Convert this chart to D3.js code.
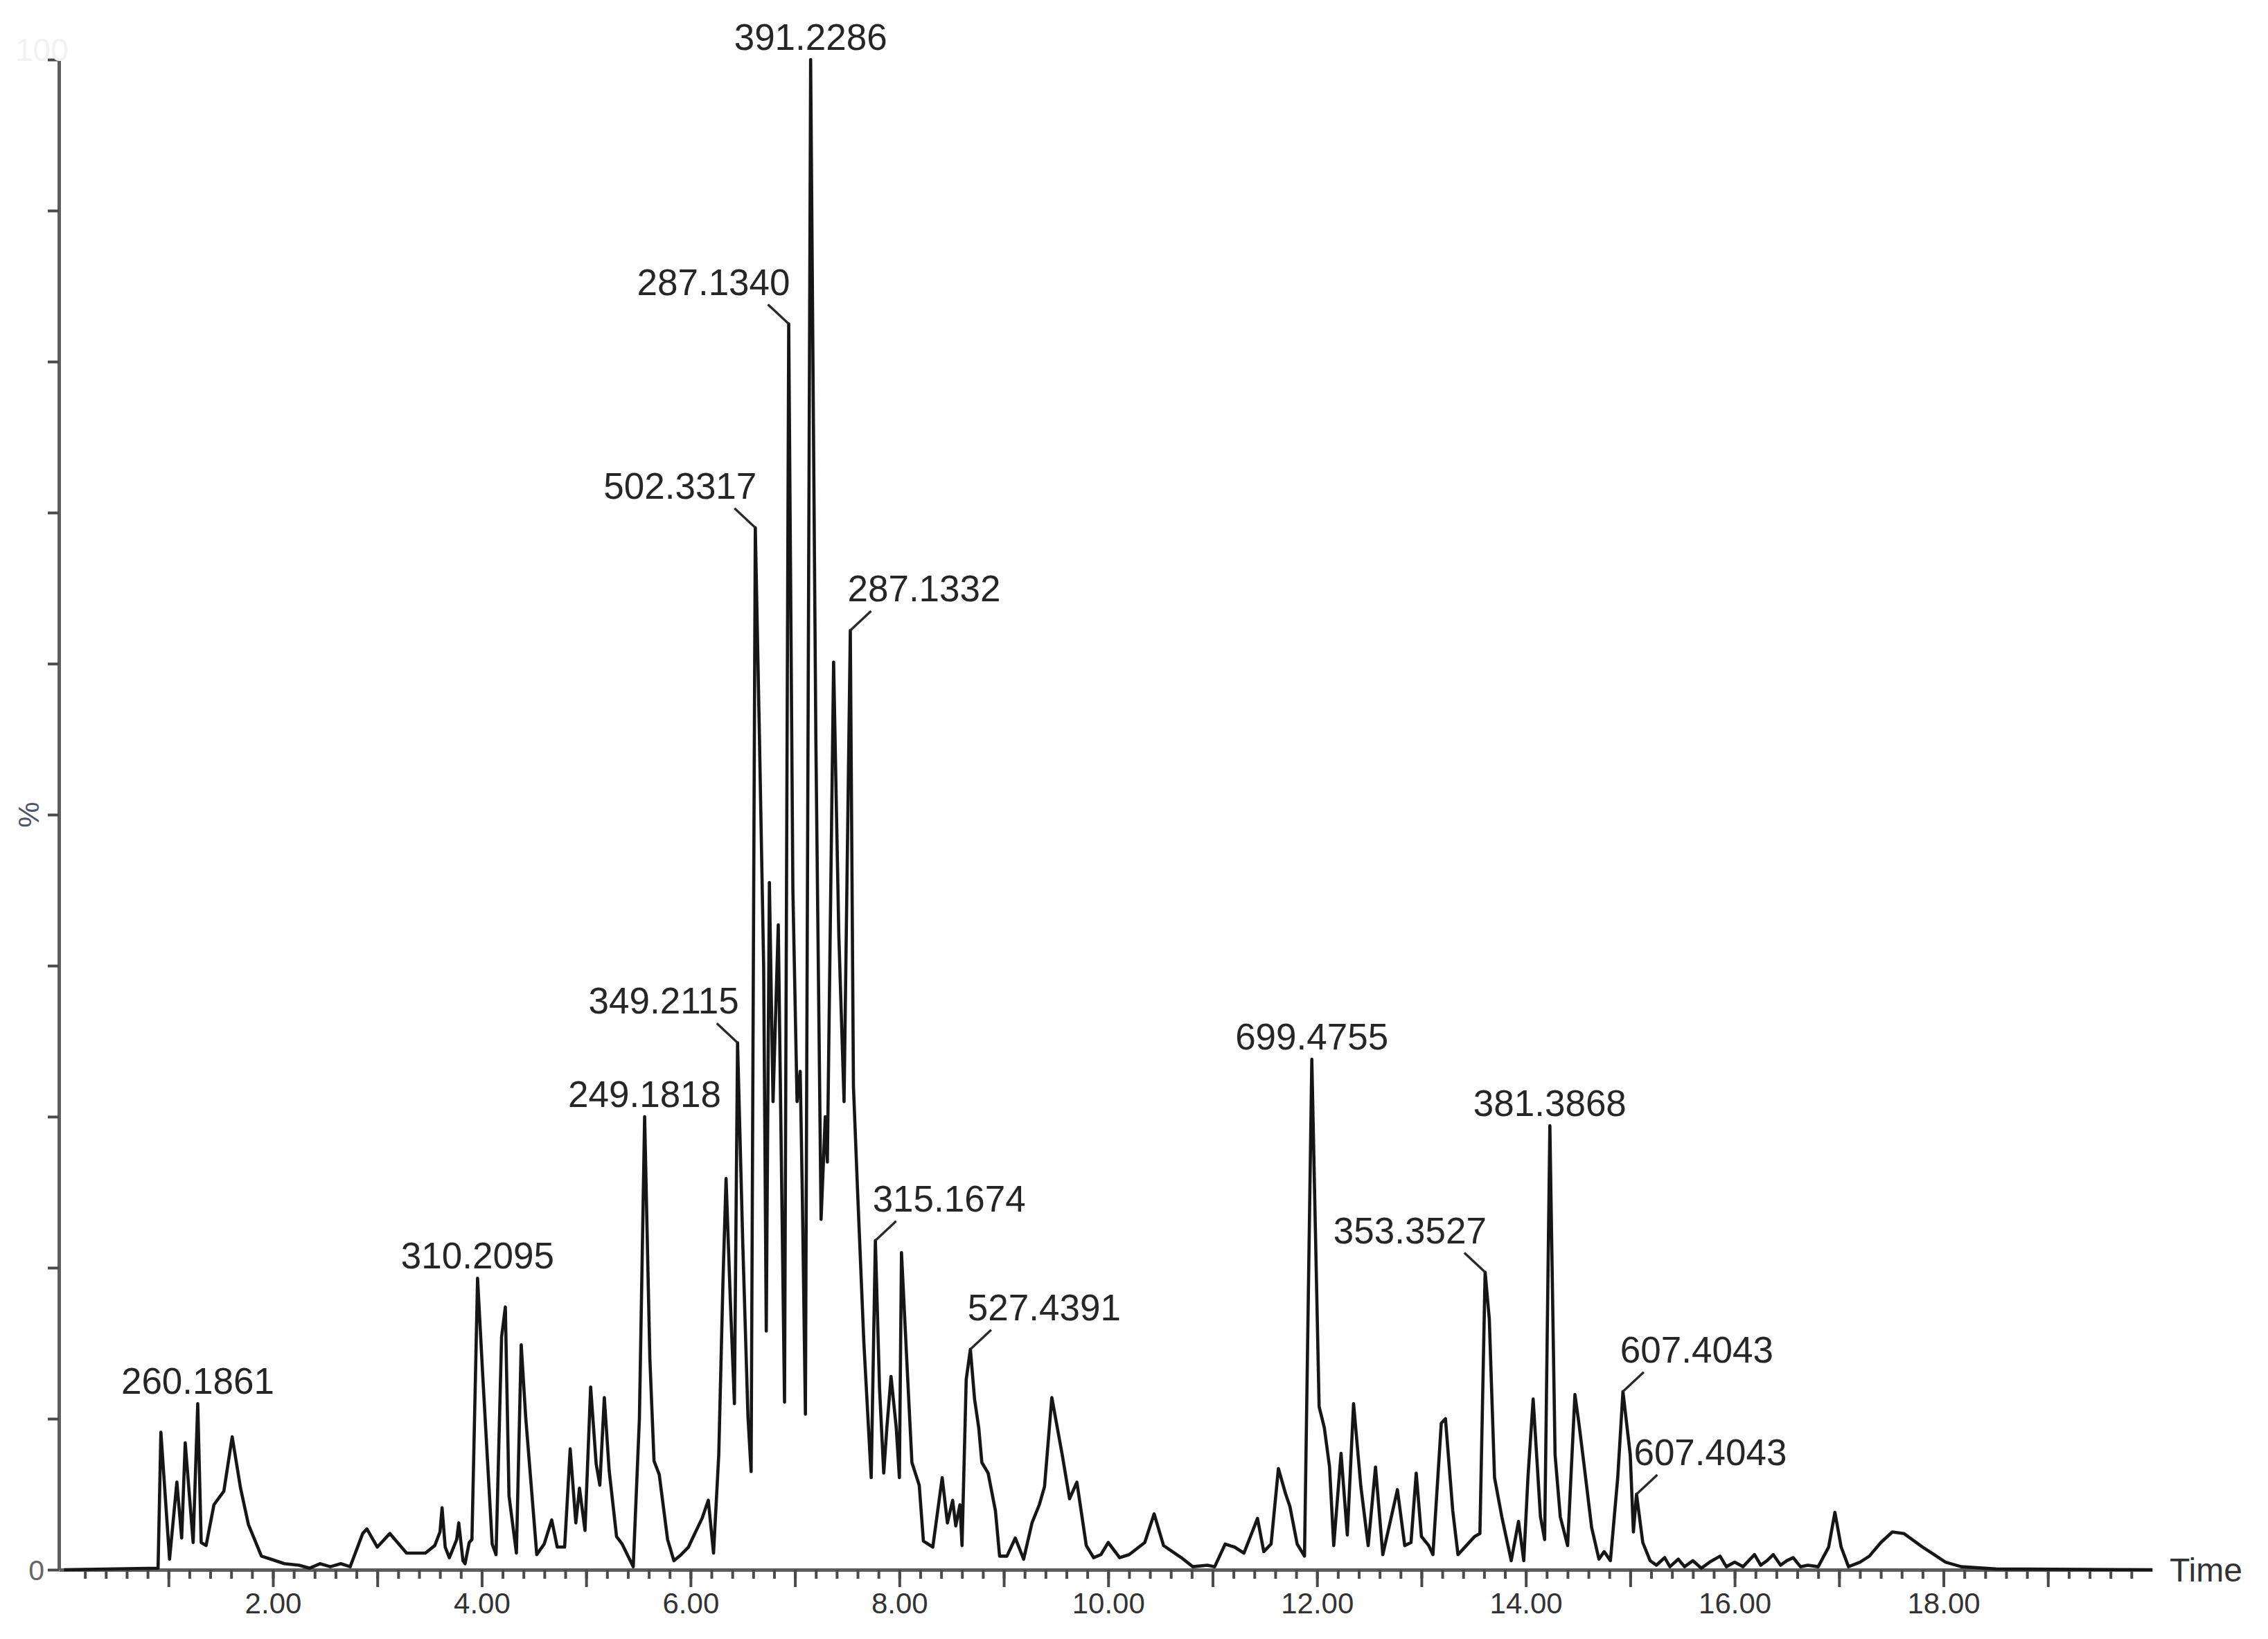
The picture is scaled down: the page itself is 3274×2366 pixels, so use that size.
<!DOCTYPE html>
<html><head><meta charset="utf-8">
<script src="https://cdn.jsdelivr.net/npm/d3@7"></script>
<style>html,body{margin:0;padding:0;background:#fff;} svg{display:block;}</style>
</head><body>
<svg id="chart" width="3274" height="2366"></svg>
<script>
// ---------- DATA ----------
const retentionTime = [
 0.00,0.90,0.927,1.01,1.08,1.126,1.16,1.236,1.28,1.313,1.36,1.435,1.53,1.61,1.69,1.765,1.89,1.98,2.11,2.25,
 2.35,2.45,2.55,2.65,2.74,2.86,2.90,3.00,3.12,3.28,3.46,3.55,3.60,3.62,3.65,3.69,3.76,3.78,3.82,3.84,
 3.88,3.906,3.96,4.01,4.10,4.137,4.19,4.226,4.261,4.332,4.378,4.421,4.527,4.598,4.67,4.723,4.794,4.847,4.901,4.936,
 4.989,5.043,5.096,5.131,5.174,5.22,5.291,5.345,5.451,5.51,5.56,5.61,5.65,5.70,5.78,5.84,5.91,5.98,6.02,6.11,
 6.17,6.22,6.27,6.31,6.34,6.38,6.42,6.45,6.50,6.55,6.58,6.62,6.66,6.70,6.725,6.755,6.79,6.84,6.90,6.94,
 6.98,7.02,7.05,7.07,7.10,7.15,7.20,7.25,7.29,7.31,7.37,7.42,7.47,7.53,7.56,7.60,7.66,7.73,7.77,7.81,
 7.85,7.88,7.92,7.97,8.00,8.02,8.08,8.12,8.19,8.23,8.32,8.41,8.46,8.51,8.54,8.58,8.60,8.64,8.68,8.72,
 8.76,8.79,8.85,8.92,8.96,9.03,9.11,9.19,9.27,9.34,9.39,9.46,9.56,9.63,9.70,9.79,9.86,9.93,10.00,10.11,
 10.20,10.35,10.44,10.53,10.70,10.81,10.95,11.02,11.12,11.21,11.30,11.43,11.49,11.56,11.63,11.70,11.74,11.81,11.88,11.95,
 12.02,12.07,12.12,12.16,12.23,12.29,12.35,12.42,12.49,12.56,12.63,12.77,12.84,12.90,12.95,13.00,13.07,13.11,13.19,13.23,
 13.30,13.35,13.43,13.51,13.56,13.61,13.65,13.70,13.77,13.86,13.93,13.98,14.02,14.07,14.14,14.18,14.23,14.28,14.33,14.40,
 14.47,14.51,14.56,14.63,14.70,14.75,14.81,14.88,14.93,15.00,15.03,15.06,15.12,15.19,15.25,15.33,15.38,15.46,15.52,15.60,
 15.68,15.76,15.86,15.92,16.00,16.08,16.19,16.25,16.31,16.37,16.44,16.50,16.56,16.63,16.70,16.80,16.90,16.96,17.02,17.09,
 17.20,17.29,17.40,17.51,17.62,17.80,18.02,18.17,18.50,20.00
];
const relAbundance = [
 0,0.1,9.1,0.7,5.8,2.1,8.4,1.8,11.0,1.8,1.6,4.3,5.2,8.8,5.4,3.0,0.9,0.7,0.4,0.3,
 0.1,0.4,0.2,0.4,0.2,2.4,2.7,1.5,2.4,1.1,1.1,1.6,2.5,4.1,1.5,0.8,2.0,3.1,0.6,0.4,
 1.8,2.0,19.3,12.8,1.7,1.0,15.4,17.4,4.9,1.1,14.9,10.1,1.0,1.7,3.3,1.5,1.5,8.0,3.1,5.4,
 2.6,12.1,7.0,5.6,11.4,6.6,2.2,1.7,0.2,10.0,30.0,14.0,7.2,6.3,2.0,0.6,1.0,1.5,2.1,3.4,
 4.6,1.1,7.6,19.0,25.9,18.0,11.0,34.9,21.6,10.1,6.5,69.0,55.0,40.0,15.8,45.5,31.0,42.7,11.1,82.5,
 45.0,31.0,33.0,25.0,10.3,100,55.0,23.2,30.0,27.0,60.1,42.0,31.0,62.2,32.0,25.0,15.0,6.1,21.8,12.0,
 6.4,9.4,12.8,9.4,6.1,21.0,12.6,7.1,5.6,1.9,1.5,6.1,3.1,4.6,2.9,4.3,1.6,12.6,14.6,11.3,
 9.4,7.1,6.4,3.9,0.9,0.9,2.1,0.7,3.1,4.3,5.5,11.4,7.6,4.7,5.8,1.6,0.8,1.0,1.8,0.8,
 1.0,1.8,3.7,1.6,0.8,0.2,0.3,0.2,1.7,1.5,1.1,3.4,1.2,1.7,6.7,5.0,4.2,1.7,0.9,33.8,
 10.8,9.4,6.8,1.6,7.7,2.3,11.0,5.5,1.6,6.8,1.0,5.3,1.6,1.8,6.4,2.2,1.6,1.0,9.7,10.0,
 3.9,1.0,1.6,2.2,2.4,19.7,16.6,6.1,3.5,0.6,3.2,0.6,6.1,11.3,3.5,2.0,29.4,7.6,3.5,1.6,
 11.6,9.6,6.8,2.8,0.7,1.2,0.6,6.1,11.8,7.6,2.5,5.0,1.8,0.6,0.3,0.8,0.2,0.7,0.2,0.6,
 0.1,0.5,0.9,0.2,0.5,0.2,1.0,0.3,0.6,1.0,0.3,0.6,0.8,0.2,0.3,0.2,1.5,3.8,1.5,0.2,
 0.5,0.9,1.8,2.5,2.4,1.5,0.5,0.2,0.05,0
];
const peakMass = ["260.1861","310.2095","249.1818","349.2115","502.3317","287.1340","391.2286",
                  "287.1332","315.1674","527.4391","699.4755","353.3527","381.3868","607.4043","607.4043"];
const peakTime = [1.28,3.96,5.56,6.45,6.62,6.94,7.15,7.53,7.77,8.68,11.95,13.61,14.23,14.93,15.06];
const yTickValues = [0,10,20,30,40,50,60,70,80,90,100];
const xMajorTicks = [1,2,3,4,5,6,7,8,9,10,11,12,13,14,15,16,17,18,19];
const xLabelTimes = [2,4,6,8,10,12,14,16,18];
const xTickLabels = ["2.00","4.00","6.00","8.00","10.00","12.00","14.00","16.00","18.00"];
const xAxisTitle = "Time";
const yAxisTitle = "%";
const yBottomLabel = "0";
const yTopLabel = "100";

// ---------- LAYOUT ----------
const FONT = "'Liberation Sans', Arial, Helvetica, sans-serif";
const svg = d3.select("#chart");
svg.append("rect").attr("width",3274).attr("height",2366).attr("fill","#fff");

const x = d3.scaleLinear().domain([-0.05, 20]).range([85, 3107]);
const y = d3.scaleLinear().domain([0, 100]).range([2266, 86]);
const AXIS_COLOR = "#5e5e5e";

// x axis minor ticks
const minorTicks = d3.range(1, 100).map(i => +(i * 0.2).toFixed(1));
const gxMinor = svg.append("g").attr("transform", `translate(0,${y(0)})`)
  .call(d3.axisBottom(x).tickValues(minorTicks).tickSize(13).tickSizeOuter(0).tickFormat(""));
gxMinor.select(".domain").attr("stroke", AXIS_COLOR).attr("stroke-width", 5);
gxMinor.selectAll(".tick line").attr("stroke", "#4a4a4a").attr("stroke-width", 4);

// x axis major ticks + labels
const labelMap = new Map(xLabelTimes.map((t, i) => [t, xTickLabels[i]]));
const gxMajor = svg.append("g").attr("transform", `translate(0,${y(0)})`)
  .call(d3.axisBottom(x).tickValues(xMajorTicks).tickSize(25).tickPadding(8)
    .tickFormat(d => labelMap.get(d) || ""));
gxMajor.select(".domain").remove();
gxMajor.selectAll(".tick line").attr("stroke", "#4a4a4a").attr("stroke-width", 4);
gxMajor.selectAll(".tick text").attr("font-family", FONT).attr("font-size", 42)
  .attr("fill", "#333");

// y axis
const gy = svg.append("g").attr("transform", `translate(85,0)`)
  .call(d3.axisLeft(y).tickValues(yTickValues).tickSize(16).tickSizeOuter(0).tickFormat(""));
gy.select(".domain").attr("stroke", AXIS_COLOR).attr("stroke-width", 5);
gy.selectAll(".tick line").attr("stroke", "#4a4a4a").attr("stroke-width", 4);

// axis texts
svg.append("text").attr("x", 3132).attr("y", y(0) + 17).attr("font-family", FONT)
  .attr("font-size", 48).attr("fill", "#333").text(xAxisTitle);
svg.append("text").attr("x", 64).attr("y", y(0) + 15).attr("text-anchor", "end")
  .attr("font-family", FONT).attr("font-size", 41).attr("fill", "#666").text(yBottomLabel);
svg.append("text").attr("transform", `translate(56,${y(50)}) rotate(-90)`)
  .attr("text-anchor", "middle").attr("font-family", FONT).attr("font-size", 42)
  .attr("fill", "#4f5466").text(yAxisTitle);
svg.append("text").attr("x", 22).attr("y", 88).attr("font-family", FONT)
  .attr("font-size", 46).attr("fill", "#f2f2f2").text(yTopLabel);

// chromatogram trace
const series = retentionTime.map((t, i) => [t, relAbundance[i]]);
svg.append("path").datum(series)
  .attr("d", d3.line().x(d => x(d[0])).y(d => y(d[1])))
  .attr("fill", "none").attr("stroke", "#161616").attr("stroke-width", 4.6)
  .attr("stroke-linejoin", "round");

// peak labels
const placement = ["c","c","c","L","L","L","c","R","R","R","c","L","c","R","R"];
const nearestIndex = t => d3.minIndex(retentionTime, v => Math.abs(v - t));
peakMass.forEach((m, i) => {
  const k = nearestIndex(peakTime[i]);
  const px = x(retentionTime[k]), py = y(relAbundance[k]);
  const side = placement[i];
  const g = svg.append("g");
  if (side === "c") {
    g.append("text").attr("x", px).attr("y", py - 14).attr("text-anchor", "middle")
      .attr("font-family", FONT).attr("font-size", 53).attr("fill", "#262626").text(m);
  } else {
    const dir = side === "L" ? -1 : 1;
    g.append("text").attr("x", px + (side === "L" ? 2 : -4)).attr("y", py - 42)
      .attr("text-anchor", side === "L" ? "end" : "start")
      .attr("font-family", FONT).attr("font-size", 53).attr("fill", "#262626").text(m);
    g.append("line").attr("x1", px + dir * 30).attr("y1", py - 28)
      .attr("x2", px).attr("y2", py).attr("stroke", "#2a2a2a").attr("stroke-width", 3.4);
  }
});
</script>
</body></html>
